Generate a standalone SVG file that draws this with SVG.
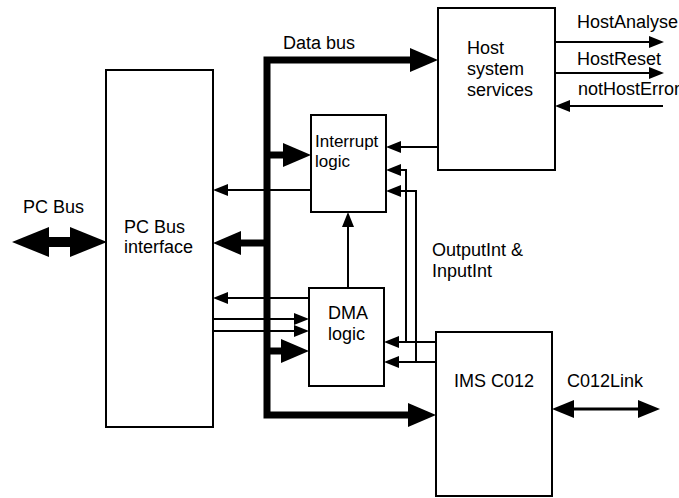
<svg xmlns="http://www.w3.org/2000/svg" xmlns:xlink="http://www.w3.org/1999/xlink" width="679" height="498" viewBox="0 0 679 498">
<style>
.box{fill:#fff;stroke:#000;stroke-width:2}
text{font-family:"Liberation Sans",Arial,Helvetica,sans-serif;font-size:18px;fill:#000}
.thin{fill:none;stroke:#000;stroke-width:2}
.thick{fill:none;stroke:#000;stroke-width:7;stroke-linejoin:miter}
.head{fill:#000;stroke:none}
</style>
<defs>
<path id="ah" d="M0,0 L-15,-6 L-15,6 Z"/>
<path id="AH" d="M0,0 L-28,-12 L-28,12 Z"/>
<path id="AHpc" d="M0,0 L-37,-15 L-37,15 Z"/>
<path id="ahm" d="M0,0 L-22,-9 L-22,9 Z"/>
</defs>
<rect width="679" height="498" fill="#fff"/>

<g id="connectors">
  <!-- data bus -->
  <path class="thick" d="M412,60 H267 V415 H410"/>
  <use xlink:href="#AH" class="head" transform="translate(438,60)"/>
  <use xlink:href="#AH" class="head" transform="translate(436,415)"/>
  <path class="thick" d="M267,155 H285"/>
  <use xlink:href="#AH" class="head" transform="translate(311,155)"/>
  <path class="thick" d="M267,243 H241"/>
  <use xlink:href="#AH" class="head" transform="translate(213,243) rotate(180)"/>
  <path class="thick" d="M267,351 H283"/>
  <use xlink:href="#AH" class="head" transform="translate(309,351)"/>
  <!-- interrupt to pc bus -->
  <path class="thin" d="M311,190 H226"/>
  <use xlink:href="#ah" class="head" transform="translate(213,190) rotate(180)"/>
  <!-- dma to pc bus -->
  <path class="thin" d="M309,298 H226"/>
  <use xlink:href="#ah" class="head" transform="translate(213,298) rotate(180)"/>
  <!-- pc bus to dma -->
  <path class="thin" d="M213,319 H296"/>
  <use xlink:href="#ah" class="head" transform="translate(309,319)"/>
  <path class="thin" d="M213,331 H296"/>
  <use xlink:href="#ah" class="head" transform="translate(309,331)"/>
  <!-- dma to interrupt -->
  <path class="thin" d="M348,288 V225"/>
  <use xlink:href="#ah" class="head" transform="translate(348,212) rotate(-90)"/>
  <!-- host to interrupt -->
  <path class="thin" d="M438,147 H398"/>
  <use xlink:href="#ah" class="head" transform="translate(386,147) rotate(180)"/>
  <!-- OutputInt & InputInt -->
  <path class="thin" d="M436,342 H397"/>
  <use xlink:href="#ah" class="head" transform="translate(384,342) rotate(180)"/>
  <path class="thin" d="M406,342 V170 H398"/>
  <use xlink:href="#ah" class="head" transform="translate(386,170) rotate(180)"/>
  <path class="thin" d="M436,362 H397"/>
  <use xlink:href="#ah" class="head" transform="translate(384,362) rotate(180)"/>
  <path class="thin" d="M416,362 V191 H398"/>
  <use xlink:href="#ah" class="head" transform="translate(386,191) rotate(180)"/>
  <!-- host outputs -->
  <path class="thin" d="M555,42 H652"/>
  <use xlink:href="#ah" class="head" transform="translate(664,42)"/>
  <path class="thin" d="M555,73 H652"/>
  <use xlink:href="#ah" class="head" transform="translate(664,73)"/>
  <path class="thin" d="M663,106 H568"/>
  <use xlink:href="#ah" class="head" transform="translate(555,106) rotate(180)"/>
  <!-- C012Link -->
  <path fill="none" stroke="#000" stroke-width="3" d="M572,409 H640"/>
  <use xlink:href="#ahm" class="head" transform="translate(552,409) rotate(180)"/>
  <use xlink:href="#ahm" class="head" transform="translate(660,409)"/>
  <!-- PC Bus -->
  <path fill="none" stroke="#000" stroke-width="10" d="M46,242 H72"/>
  <use xlink:href="#AHpc" class="head" transform="translate(12,242) rotate(180)"/>
  <use xlink:href="#AHpc" class="head" transform="translate(107,242)"/>
</g>

<g id="pcbus">
  <rect class="box" x="106" y="70" width="107" height="357"/>
  <text x="124" y="233">PC Bus</text>
  <text x="124" y="253">interface</text>
</g>
<g id="host">
  <rect class="box" x="438" y="8" width="117" height="162"/>
  <text x="467" y="54">Host</text>
  <text x="467" y="75">system</text>
  <text x="467" y="96">services</text>
</g>
<g id="interrupt">
  <rect class="box" x="311" y="115" width="75" height="97"/>
  <text x="315" y="147" style="font-size:17px">Interrupt</text>
  <text x="315" y="167" style="font-size:17px">logic</text>
</g>
<g id="dma">
  <rect class="box" x="309" y="288" width="75" height="98"/>
  <text x="328" y="319">DMA</text>
  <text x="328" y="340">logic</text>
</g>
<g id="ims">
  <rect class="box" x="436" y="332" width="116" height="164"/>
  <text x="454" y="387">IMS C012</text>
</g>
<g id="labels">
  <text x="23" y="213">PC Bus</text>
  <text x="283" y="49">Data bus</text>
  <text x="577" y="28">HostAnalyse</text>
  <text x="577" y="65">HostReset</text>
  <text x="578" y="95">notHostError</text>
  <text x="432" y="256">OutputInt &amp;</text>
  <text x="432" y="277">InputInt</text>
  <text x="567" y="387">C012Link</text>
</g>
</svg>
